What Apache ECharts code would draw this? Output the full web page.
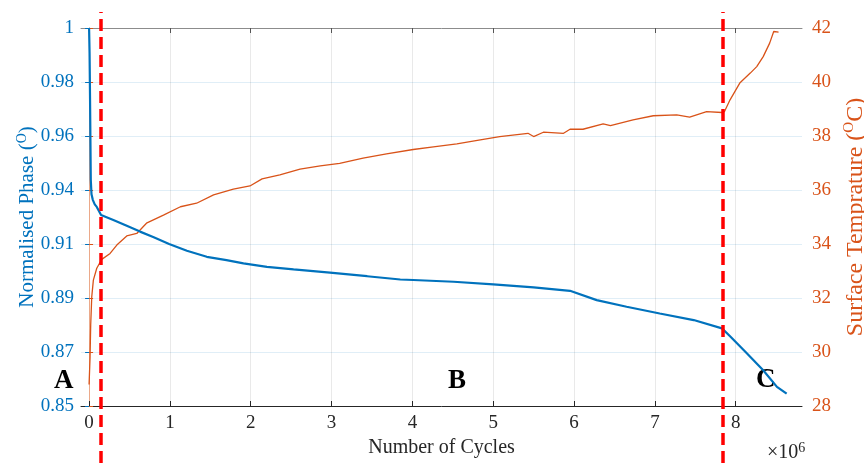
<!DOCTYPE html>
<html>
<head>
<meta charset="utf-8">
<script src="https://cdn.jsdelivr.net/npm/echarts@6/dist/echarts.min.js"></script>
<style>
    html, body { margin: 0; padding: 0; background: #fff; }
    #chart { width: 864px; height: 463px; }
</style>
</head>
<body>
<div id="chart"></div>
<script>
// cycles in millions
const phaseCycles = [0, 0.006, 0.012, 0.021, 0.03, 0.046, 0.07, 0.095, 0.148, 0.30, 0.466, 0.63, 0.80, 0.99, 1.21, 1.456, 1.70, 1.91, 2.20, 2.53, 2.98, 3.44, 3.85, 4.01, 4.51, 5.0, 5.50, 5.95, 6.28, 6.65, 7.06, 7.48, 7.83, 7.93, 8.14, 8.34, 8.51, 8.63]
const phaseValues = [1.0, 0.99, 0.9715, 0.9397, 0.934, 0.9318, 0.930, 0.929, 0.9258, 0.9238, 0.9215, 0.9192, 0.917, 0.9143, 0.9116, 0.9092, 0.9079, 0.9066, 0.9052, 0.9042, 0.9029, 0.9015, 0.9002, 0.9, 0.8993, 0.8983, 0.8971, 0.8957, 0.892, 0.8894, 0.8867, 0.8841, 0.8808, 0.8777, 0.8708, 0.8642, 0.8576, 0.8549]

const tempCycles = [0, 0.012, 0.02, 0.033, 0.053, 0.095, 0.157, 0.26, 0.343, 0.466, 0.59, 0.71, 0.92, 1.13, 1.33, 1.54, 1.785, 1.99, 2.14, 2.36, 2.61, 2.86, 3.10, 3.39, 3.68, 4.01, 4.26, 4.55, 4.84, 5.08, 5.43, 5.50, 5.62, 5.87, 5.95, 6.11, 6.36, 6.45, 6.73, 6.98, 7.27, 7.43, 7.64, 7.83, 7.86, 7.93, 8.05, 8.18, 8.26, 8.34, 8.42, 8.47, 8.53]
const tempValues = [28.8, 29.8, 31.0, 32.04, 32.66, 33.1, 33.43, 33.65, 33.96, 34.3, 34.39, 34.77, 35.07, 35.38, 35.51, 35.82, 36.03, 36.15, 36.41, 36.56, 36.77, 36.89, 36.99, 37.18, 37.34, 37.5, 37.6, 37.71, 37.86, 37.98, 38.1, 37.98, 38.14, 38.1, 38.25, 38.25, 38.45, 38.38, 38.6, 38.75, 38.78, 38.7, 38.9, 38.87, 38.9, 39.34, 39.96, 40.33, 40.57, 40.94, 41.44, 41.87, 41.85]

const cycleTicks = [0, 1, 2, 3, 4, 5, 6, 7, 8]
const phaseTicks = ['0.85', '0.87', '0.89', '0.91', '0.94', '0.96', '0.98', '1']
const tempTicks = [28, 30, 32, 34, 36, 38, 40, 42]
const regionBounds = [0.136, 7.84]
const regionLabels = ['A', 'B', 'C']

const font = 'Liberation Serif'
const blue = '#0072BD'
const orange = '#D95319'
const dark = '#262626'

const phaseMin = 0.85, phaseMax = 1
const phaseStep = (phaseMax - phaseMin) / (phaseTicks.length - 1)
const phaseTickPos = phaseTicks.map((t, i) => phaseMin + i * phaseStep)

const chart = echarts.init(document.getElementById('chart'))
chart.setOption({
    animation: false,
    backgroundColor: '#fff',
    grid: [
        { left: 81, right: 62, top: 28, bottom: 57, outerBoundsMode: 'none' },
        { left: 81, right: 62, top: 12, bottom: 0, outerBoundsMode: 'none' }
    ],
    xAxis: [
        {
            type: 'value', gridIndex: 0, min: -0.1, max: 8.82,
            name: 'Number of Cycles', nameLocation: 'middle', nameGap: 32,
            nameTextStyle: { fontFamily: font, fontSize: 20, color: dark },
            axisLine: { lineStyle: { color: dark, width: 1 } },
            axisTick: { inside: true, length: 5, customValues: cycleTicks, lineStyle: { color: dark } },
            axisLabel: { customValues: cycleTicks, fontFamily: font, fontSize: 19, color: dark, margin: 8 },
            splitLine: { show: true, lineStyle: { color: 'rgba(38,38,38,0.1)' } }
        },
        {
            type: 'value', gridIndex: 0, position: 'top', min: -0.1, max: 8.82,
            axisLine: { lineStyle: { color: '#8c8c8c' } },
            axisTick: { inside: true, length: 5, customValues: cycleTicks, lineStyle: { color: '#555' } },
            axisLabel: { show: false },
            splitLine: { show: false }
        },
        { type: 'value', gridIndex: 1, min: -0.1, max: 8.82, show: false }
    ],
    yAxis: [
        {
            type: 'value', gridIndex: 0, min: phaseMin, max: phaseMax,
            name: 'Normalised Phase ({sup|O})', nameLocation: 'middle', nameRotate: 90, nameGap: 41,
            nameMoveOverlap: false,
            nameTextStyle: {
                fontFamily: font, fontSize: 21, color: blue, lineHeight: 25,
                rich: { sup: { fontFamily: font, fontSize: 14, color: blue, verticalAlign: 'top', lineHeight: 25 } }
            },
            axisLine: { show: true, lineStyle: { color: '#5fa3d6' } },
            axisTick: { show: true, length: 4, customValues: phaseTickPos, lineStyle: { color: blue } },
            axisLabel: {
                customValues: phaseTickPos, fontFamily: font, fontSize: 19, color: blue, margin: 7,
                formatter: v => phaseTicks[Math.round((v - phaseMin) / phaseStep)]
            },
            splitLine: { show: true, lineStyle: { color: 'rgba(0,114,189,0.12)' } }
        },
        {
            type: 'value', gridIndex: 0, position: 'right', min: 28, max: 42,
            name: 'Surface Temprature ({sup|O}C)', nameLocation: 'middle', nameRotate: 90, nameGap: 40,
            nameMoveOverlap: false,
            nameTextStyle: {
                fontFamily: font, fontSize: 24, color: orange, lineHeight: 28,
                rich: { sup: { fontFamily: font, fontSize: 15, color: orange, verticalAlign: 'top', lineHeight: 28 } }
            },
            axisLine: { show: true, lineStyle: { color: '#eba98a' } },
            axisTick: { show: true, length: 4, customValues: tempTicks, lineStyle: { color: orange } },
            axisLabel: { customValues: tempTicks, fontFamily: font, fontSize: 19, color: orange, margin: 10 },
            splitLine: { show: false }
        },
        { type: 'value', gridIndex: 1, min: 0, max: 1, show: false }
    ],
    series: [
        {
            name: 'phase', type: 'line', xAxisIndex: 0, yAxisIndex: 0,
            data: phaseCycles.map((c, i) => [c, phaseValues[i]]),
            showSymbol: false, lineStyle: { color: blue, width: 2.2 }, z: 3
        },
        {
            name: 'temp', type: 'line', xAxisIndex: 0, yAxisIndex: 1,
            data: tempCycles.map((c, i) => [c, tempValues[i]]),
            showSymbol: false, lineStyle: { color: orange, width: 1.3 }, z: 2
        },
        {
            name: 'regions', type: 'line', xAxisIndex: 2, yAxisIndex: 2, data: [],
            markLine: {
                silent: true, symbol: 'none', label: { show: false },
                lineStyle: { color: '#ff0000', type: [12, 6], width: 3.5 },
                data: regionBounds.map(b => ({ xAxis: b }))
            },
            z: 5
        }
    ],
    graphic: [
        { type: 'text', left: 54, top: 368, style: { text: regionLabels[0], font: 'bold 27px "Liberation Serif"', fill: '#000' } },
        { type: 'text', left: 448, top: 368, style: { text: regionLabels[1], font: 'bold 27px "Liberation Serif"', fill: '#000' } },
        { type: 'text', left: 756, top: 367, style: { text: regionLabels[2], font: 'bold 27px "Liberation Serif"', fill: '#000' } },
        {
            type: 'text', left: 767, top: 441,
            style: {
                text: '×10{sup|6}', fontFamily: font, fontSize: 20, fill: dark,
                rich: { sup: { fontFamily: font, fontSize: 14, fill: dark, verticalAlign: 'top', padding: [0, 0, 9, 0] } }
            }
        }
    ]
})
</script>
</body>
</html>
